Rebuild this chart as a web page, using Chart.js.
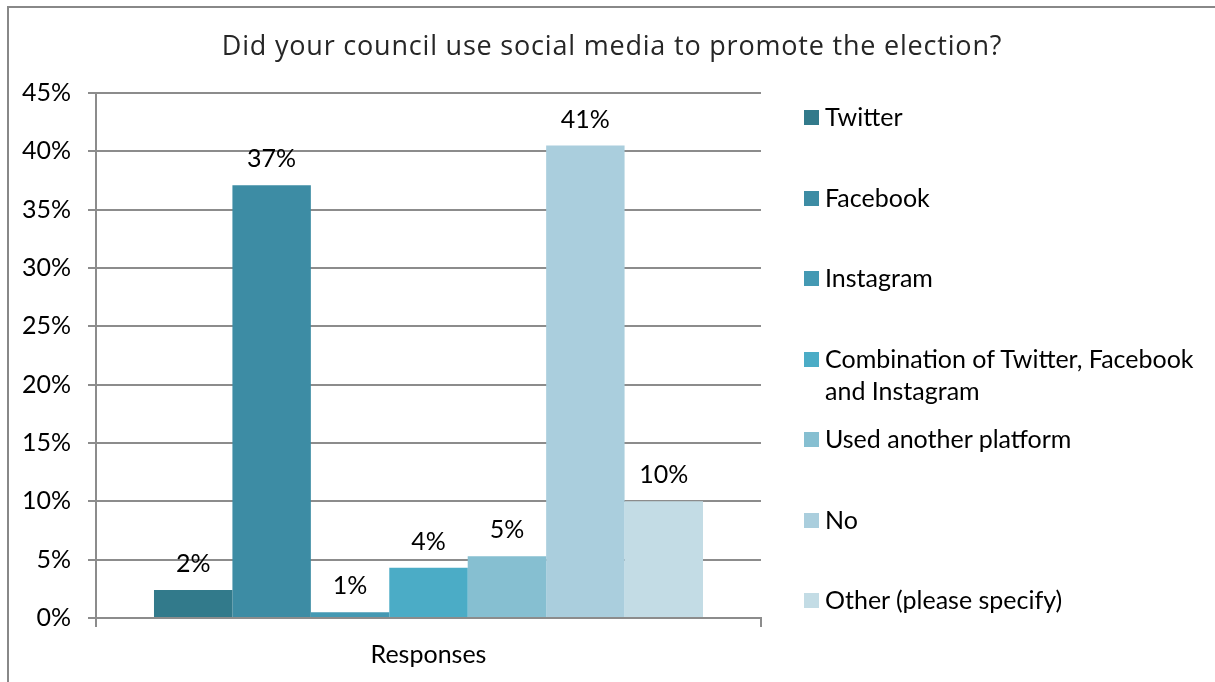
<!DOCTYPE html>
<html>
<head>
<meta charset="utf-8">
<script src="https://cdn.jsdelivr.net/npm/chart.js@4.4.1/dist/chart.umd.min.js"></script>
<style>
  html, body { margin: 0; padding: 0; background: #fff; overflow: hidden; }
  #wrap { position: relative; width: 1215px; height: 682px; }
  #frame { position: absolute; left: 7px; top: 6px; right: -10px; bottom: -10px;
           border-top: 2px solid #888; border-left: 2px solid #888; }
  canvas { position: absolute; left: 0; top: 0; }
  #title { position: absolute; left: 212px; width: 800px; top: 29px; line-height: 32px; text-align: center;
           font-family: "Open Sans", sans-serif; font-size: 27px; letter-spacing: 0.8px; color: #262626;
           white-space: nowrap; }
  #legend { position: absolute; left: 804px; top: 100px; width: 410px;
            font-family: Lato, "Liberation Sans", sans-serif; font-size: 25px; color: #000; }
  .item { position: relative; height: 80.5px; }
  .box { position: absolute; left: 0; top: 10px; width: 15px; height: 15px; }
  .txt { position: absolute; left: 21px; top: 0; width: 385px; line-height: 32px; }
</style>
</head>
<body>
<div id="wrap">
  <div id="frame"></div>
  <canvas id="c" width="1215" height="682"></canvas>
  <div id="title"></div>
  <div id="legend"></div>
</div>
<script>
const chartTitle = "Did your council use social media to promote the election?";
const categories = ["Responses"];
const seriesNames = ["Twitter", "Facebook", "Instagram", "Combination of Twitter, Facebook and Instagram", "Used another platform", "No", "Other (please specify)"];
const seriesValues = [2.4, 37.1, 0.5, 4.3, 5.3, 40.5, 10.0];
const seriesColors = ["#327A8B", "#3D8CA4", "#4499B3", "#4BACC6", "#86BFD1", "#AACEDD", "#C3DCE5"];
const yTicks = { min: 0, max: 45, step: 5 };

const FONT = "Lato, 'Liberation Sans', sans-serif";
const GRID = "#8c8c8c";

document.getElementById('title').textContent = chartTitle;

const datasets = seriesNames.map((name, i) => ({
  label: name,
  data: [seriesValues[i]],
  backgroundColor: seriesColors[i],
  borderWidth: 0,
  barPercentage: 1,
  categoryPercentage: 0.8256
}));

const valueLabels = {
  id: 'valueLabels',
  afterDatasetsDraw(chart) {
    const ctx = chart.ctx;
    ctx.save();
    ctx.font = "25px " + FONT;
    ctx.fillStyle = "#000";
    ctx.textAlign = "center";
    ctx.textBaseline = "middle";
    chart.data.datasets.forEach((ds, i) => {
      const meta = chart.getDatasetMeta(i);
      meta.data.forEach((el, j) => {
        ctx.fillText(Math.round(ds.data[j]) + "%", el.x, el.y - 26);
      });
    });
    ctx.restore();
  }
};

const chart = new Chart(document.getElementById('c'), {
  type: 'bar',
  data: { labels: categories, datasets },
  plugins: [valueLabels],
  options: {
    responsive: false,
    animation: false,
    layout: { padding: { left: 0, right: 454, top: 93, bottom: 0 } },
    plugins: {
      legend: { display: false },
      tooltip: { enabled: false },
      title: { display: false }
    },
    scales: {
      x: {
        afterFit(s) { s.height = 64; },
        border: { display: true, color: GRID, width: 2 },
        grid: { offset: true, drawOnChartArea: false, drawTicks: true, tickLength: 9, color: GRID, lineWidth: 2 },
        ticks: { color: "#000", font: { family: FONT, size: 25 }, padding: 13 }
      },
      y: {
        min: yTicks.min, max: yTicks.max,
        afterFit(s) { s.width = 96; },
        border: { display: true, color: GRID, width: 2 },
        grid: { color: GRID, lineWidth: 2, tickLength: 8 },
        ticks: { stepSize: yTicks.step, color: "#000", font: { family: FONT, size: 25 }, padding: 17,
                 callback: v => v + "%" }
      }
    }
  }
});

// HTML legend built from the chart's own legend items
const legendEl = document.getElementById('legend');
chart.options.plugins.legend.labels.generateLabels(chart).forEach(item => {
  const div = document.createElement('div');
  div.className = 'item';
  const box = document.createElement('div');
  box.className = 'box';
  box.style.background = item.fillStyle;
  const txt = document.createElement('div');
  txt.className = 'txt';
  txt.textContent = item.text;
  div.appendChild(box);
  div.appendChild(txt);
  legendEl.appendChild(div);
});
</script>
</body>
</html>
